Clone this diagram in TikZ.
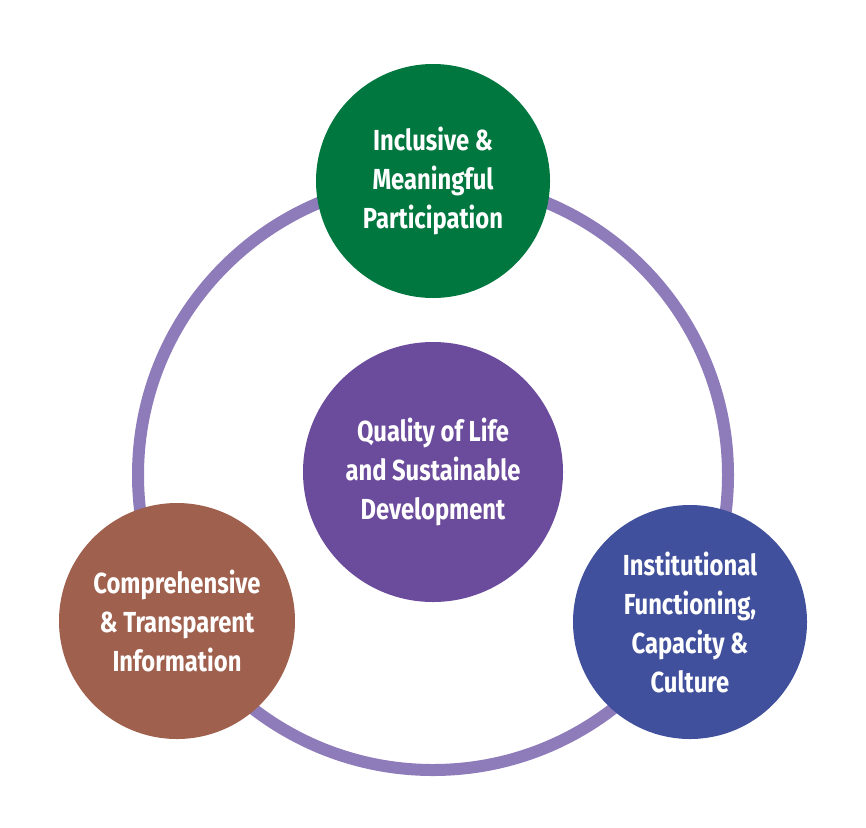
\documentclass[tikz,border=0pt]{standalone}
\usepackage{fontspec}
\setmainfont{Fira Sans}[FakeStretch=0.82]
\definecolor{ringc}{HTML}{8E7BBA}
\definecolor{cent}{HTML}{6A4B9C}
\definecolor{grn}{HTML}{00773F}
\definecolor{brn}{HTML}{A0604E}
\definecolor{blu}{HTML}{41509C}
\begin{document}
\begin{tikzpicture}[x=1pt,y=-1pt,
  bub/.style={circle,inner sep=0pt,text=white,align=center,font=\fontsize{29}{39}\selectfont\bfseries}]
\useasboundingbox (0,0) rectangle (866,827);
\draw[ringc,line width=12pt] (433,475) circle (295);
\node[bub,fill=cent,minimum size=260pt] (c) at (433,472) {Quality of Life\\and Sustainable\\Development};
\node[bub,fill=grn,minimum size=234pt] (t) at (433,181) {Inclusive \&\\Meaningful\\Participation};
\node[bub,fill=brn,minimum size=236pt] (l) at (177,621) {Comprehensive\\\& Transparent\\Information};
\node[bub,fill=blu,minimum size=234pt] (r) at (690,622) {Institutional\\Functioning,\\Capacity \&\\Culture};
\end{tikzpicture}
\end{document}
